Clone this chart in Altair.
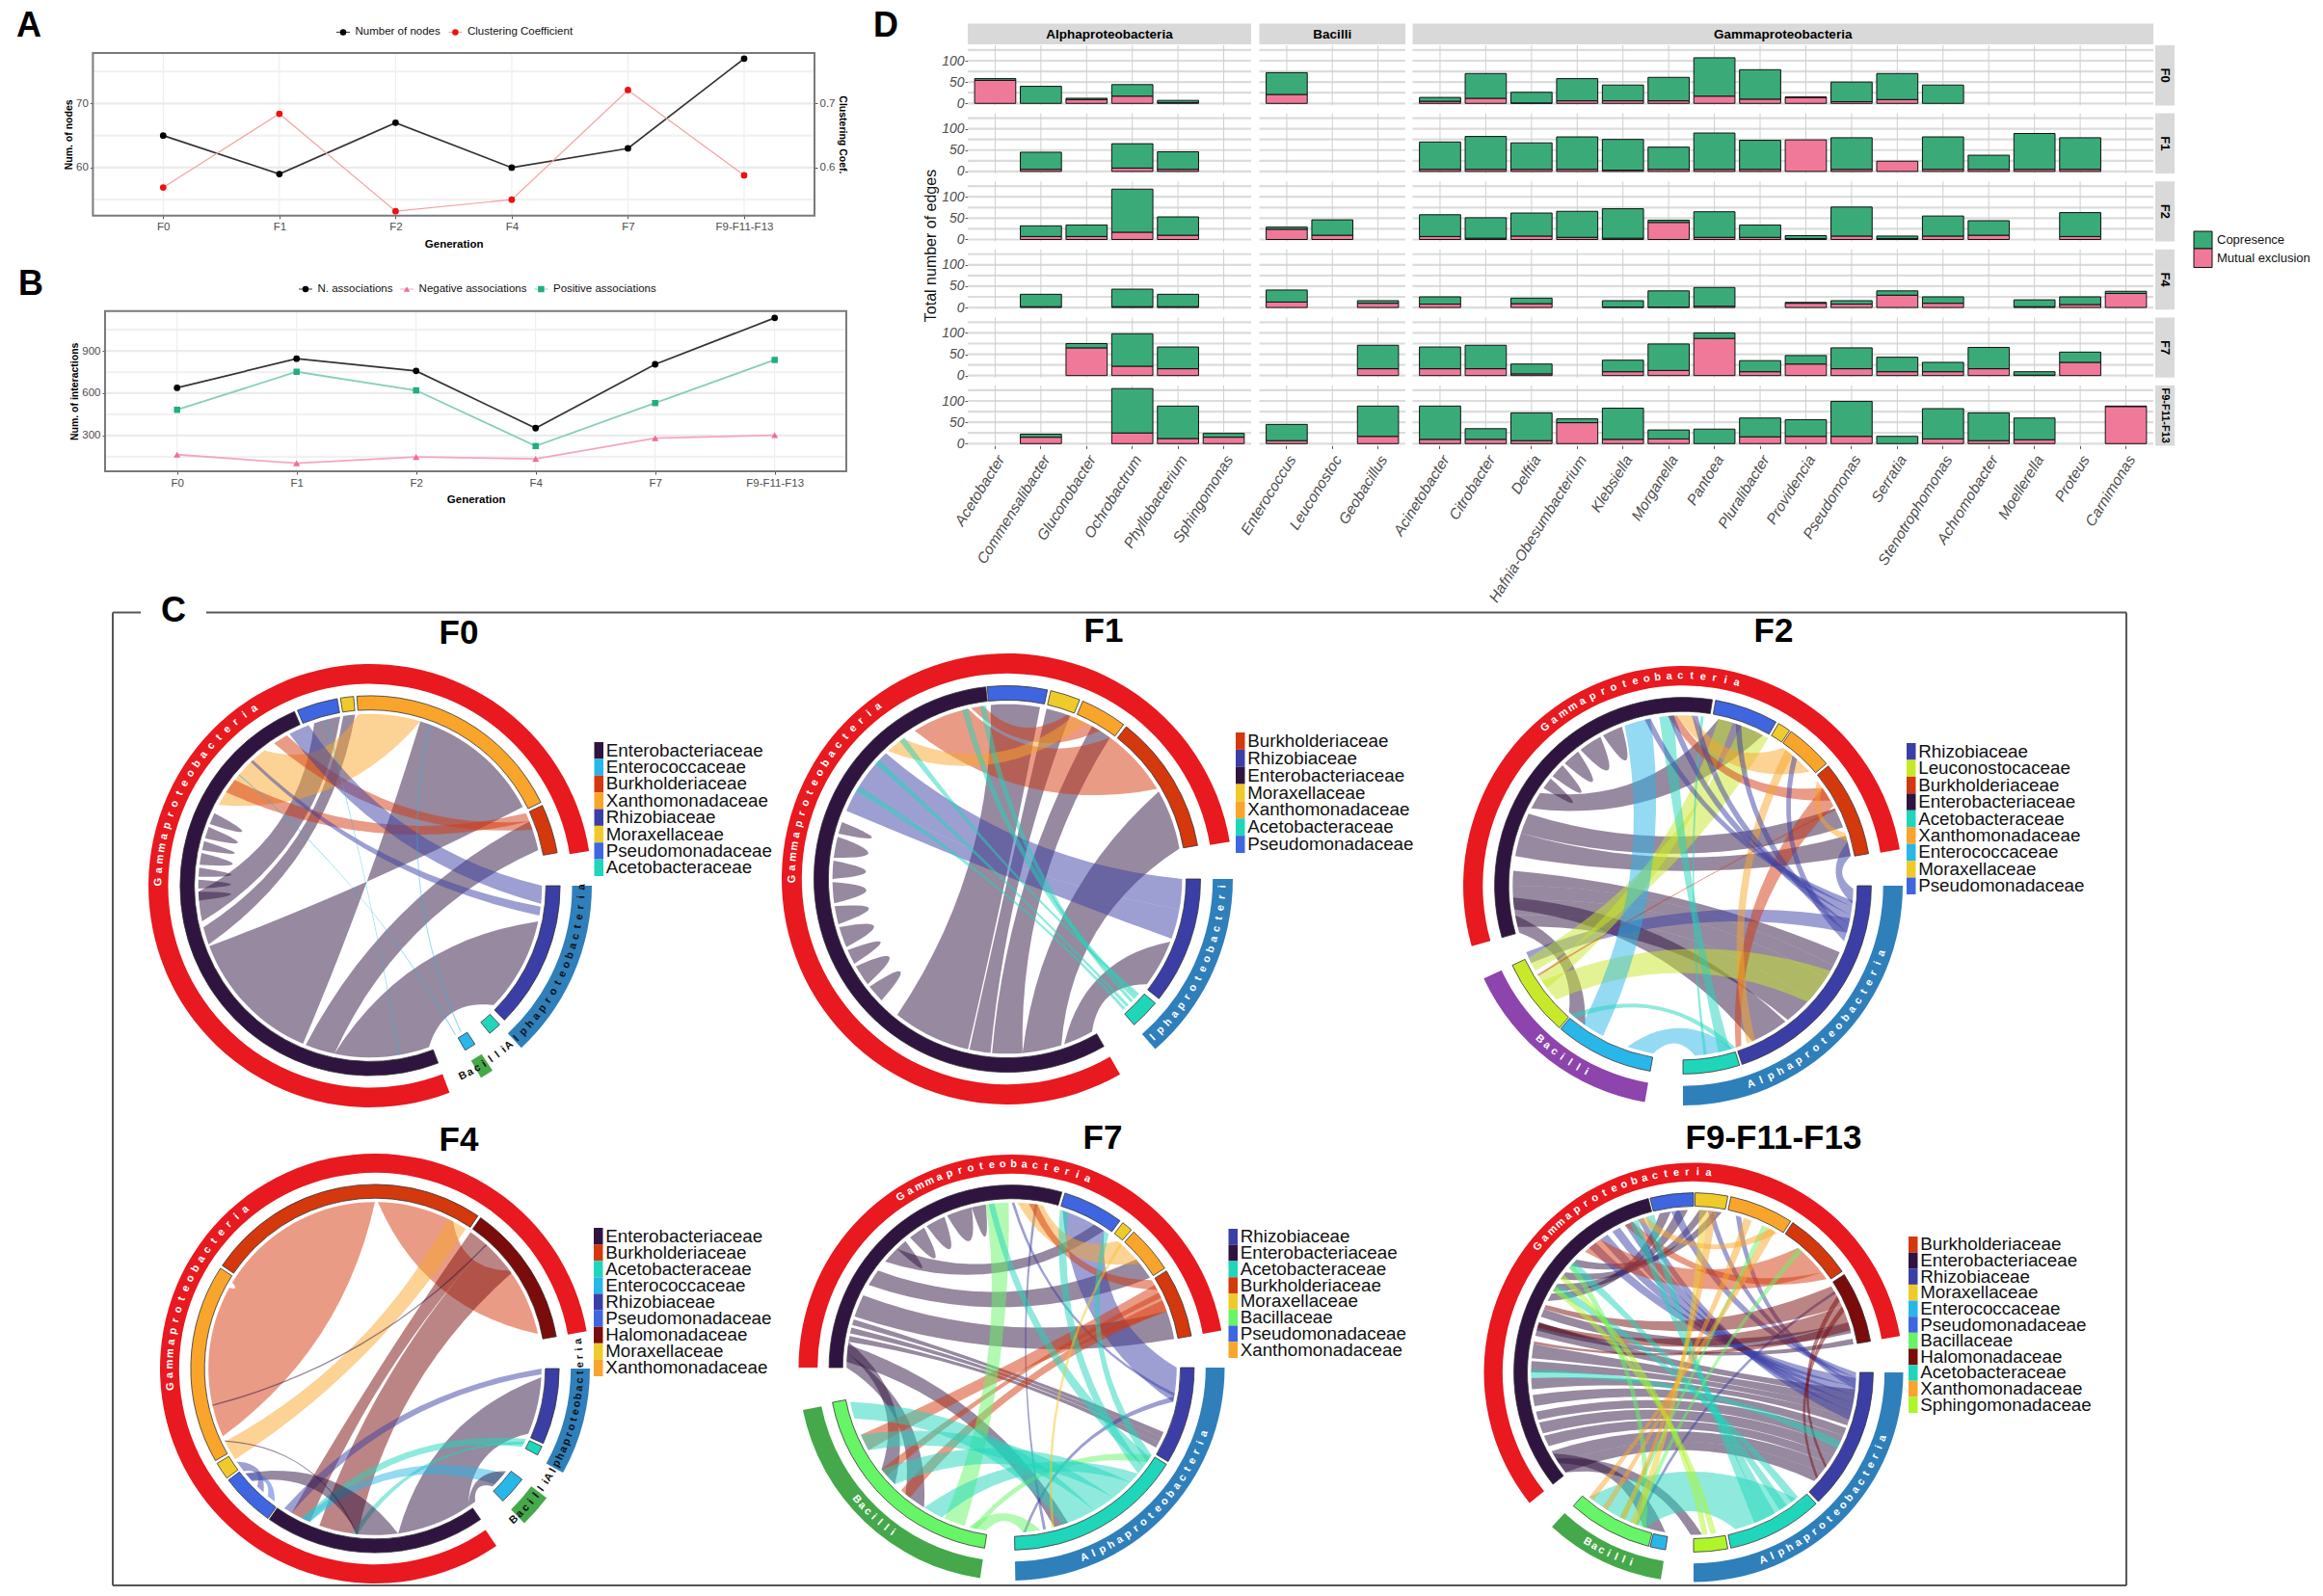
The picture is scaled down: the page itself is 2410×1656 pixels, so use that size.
import math
import altair as alt
import pandas as pd

W, H, M = 2394, 1640, 8
SANS = "Liberation Sans"

GENS = ["F0", "F1", "F2", "F4", "F7", "F9-F11-F13"]
nodes = [65, 59, 67, 60, 63, 77]
clustering = [0.569, 0.684, 0.532, 0.55, 0.721, 0.588]
n_assoc = [638, 845, 758, 352, 805, 1134]
pos_assoc = [482, 752, 620, 225, 530, 836]
neg_assoc = [164, 103, 148, 134, 281, 302]

ALPHA = ["Acetobacter", "Commensalibacter", "Gluconobacter", "Ochrobactrum", "Phyllobacterium", "Sphingomonas"]
BACILLI = ["Enterococcus", "Leuconostoc", "Geobacillus"]
GAMMA = ["Acinetobacter", "Citrobacter", "Delftia", "Hafnia-Obesumbacterium", "Klebsiella", "Morganella", "Pantoea",
         "Pluralibacter", "Providencia", "Pseudomonas", "Serratia", "Stenotrophomonas", "Achromobacter", "Moellerella",
         "Proteus", "Carnimonas"]
TOTAL = {
    "F0": [58, 40, 12, 44, 7, 0, 72, 0, 0, 14, 70, 26, 58, 43, 61, 107, 79, 15, 50, 70, 43, 0, 0, 0, 0],
    "F1": [0, 45, 0, 65, 46, 0, 0, 0, 0, 69, 82, 67, 81, 75, 57, 90, 73, 74, 79, 24, 81, 38, 89, 79, 0],
    "F2": [0, 32, 34, 118, 53, 0, 29, 46, 0, 58, 51, 62, 66, 72, 45, 65, 34, 9, 76, 8, 55, 44, 0, 63, 0],
    "F4": [0, 31, 0, 43, 31, 0, 41, 0, 16, 25, 0, 22, 0, 16, 39, 47, 0, 12, 16, 39, 25, 0, 18, 25, 38],
    "F7": [0, 0, 75, 98, 67, 0, 0, 0, 71, 67, 71, 27, 0, 36, 74, 100, 35, 47, 65, 43, 31, 66, 9, 55, 0],
    "F9-F11-F13": [0, 22, 0, 129, 88, 24, 45, 0, 88, 88, 35, 72, 58, 83, 32, 34, 60, 56, 99, 17, 82, 72, 60, 0, 88],
}
EXCL = {
    "F0": [54, 0, 9, 17, 2, 0, 21, 0, 0, 5, 12, 1, 6, 6, 6, 17, 10, 14, 4, 9, 0, 0, 0, 0, 0],
    "F1": [0, 5, 0, 8, 5, 0, 0, 0, 0, 5, 5, 5, 5, 3, 5, 5, 5, 74, 5, 24, 5, 5, 5, 5, 0],
    "F2": [0, 7, 7, 17, 10, 0, 24, 10, 0, 7, 3, 8, 5, 3, 40, 5, 5, 2, 8, 2, 8, 10, 0, 7, 0],
    "F4": [0, 2, 0, 2, 2, 0, 13, 0, 10, 8, 0, 9, 0, 1, 1, 3, 0, 10, 8, 29, 10, 0, 2, 7, 33],
    "F7": [0, 0, 65, 22, 16, 0, 0, 0, 16, 16, 16, 4, 0, 9, 12, 87, 9, 27, 16, 9, 9, 16, 1, 31, 0],
    "F9-F11-F13": [0, 15, 0, 25, 12, 15, 7, 0, 17, 10, 10, 7, 49, 10, 11, 0, 16, 17, 17, 0, 11, 7, 9, 0, 87],
}

FAM = {"E": ("Enterobacteriaceae", "#2f1440"), "C": ("Enterococcaceae", "#29b6e8"), "B": ("Burkholderiaceae", "#d4380d"),
       "X": ("Xanthomonadaceae", "#f9a52b"), "R": ("Rhizobiaceae", "#3b3fa5"), "M": ("Moraxellaceae", "#eecb2a"),
       "P": ("Pseudomonadaceae", "#3f66e0"), "A": ("Acetobacteraceae", "#1fd6bb"), "L": ("Leuconostocaceae", "#c8e82a"),
       "H": ("Halomonadaceae", "#7a0c0c"), "G": ("Bacillaceae", "#66f566"), "S": ("Sphingomonadaceae", "#aef52a")}
RED, BLUE, GREEN, PURPLE = "#e8191f", "#2f7fbb", "#45a84a", "#8e44ad"

DIAGS = [
 dict(name="F0", cx=384, cy=919, R=230, title=(476, 657), legend="ECBXRMPA", lg=(616.5, 770, 909),
      outer=[(90, 137, BLUE), (146.5, 150, GREEN), (159, 441, RED)],
      seg=[(90, 135, "R"), (137, 141, "A"), (146.5, 150, "C"), (159, 336.5, "E"), (337.5, 350, "P"), (351, 355, "M"), (356, 424, "X"), (425, 440, "B")],
      text=[("Gammaproteobacteria", 271, 3.1, "#ffffff"), ("Alphaproteobacteria", 139, -2.7, "#111111"), ("Bacilli", 154, -2.2, "#111111")],
      teeth=[(291, 295), (286, 290), (282, 285), (277, 281), (273, 276), (269, 272), (265, 268)],
      rib=[(17, 62.7, 249.4, 203, "E"), (68, 78, 192, 202, "E"), (102, 134, 160, 192, "E"), (341, 350, 258, 268, "E"), (351, 355, 250, 256, "E"),
           (298, 322, 356, 377, "X"), (303, 308, 65, 68, "B"), (326, 331, 68, 71, "B"), (332, 339, 90, 96, "R"), (316, 317, 97, 100, "R"),
           (345, 345.4, 170, 170.4, "C"), (310, 310.4, 150, 150.4, "C"), (20, 20.4, 148, 148.4, "C")]),
 dict(name="F1", cx=1045, cy=912, R=234, title=(1145, 655), legend="BREMXAP", lg=(1282, 760, 885),
      outer=[(90, 139, BLUE), (150, 440.5, RED)],
      seg=[(90, 128.3, "R"), (130, 139, "A"), (150, 353.6, "E"), (354, 372, "P"), (373, 382, "M"), (383, 397, "X"), (398, 440, "B")],
      text=[("Gammaproteobacteria", 270, 2.95, "#ffffff"), ("Alphaproteobacteria", 140.3, -2.84, "#ffffff")],
      teeth=[(285, 289), (277, 284), (270, 276), (262, 269), (255, 261), (247, 254), (241, 246), (233, 240), (226, 232)],
      rib=[(354.6, 370.8, 193, 219, "E"), (13, 21, 185.5, 192.5, "E"), (29, 36, 175, 185, "E"), (60, 80, 162, 175, "E"), (111, 127, 151, 161, "E"),
           (328, 347, 396, 419, "B"), (348, 352, 380, 392, "B"), (317, 323.4, 382, 387, "X"), (300, 316, 450, 460, "R"), (293, 300, 460, 470, "R"),
           (131, 132, 322, 324, "A"), (132, 133.5, 345, 347, "A"), (134, 135, 351, 353, "A"), (136, 137, 311, 313, "A"), (137.5, 138.5, 300, 302, "A")]),
 dict(name="F2", cx=1746, cy=919, R=228, title=(1840, 655), legend="RLBEAXCMP", lg=(1978, 771, 928),
      outer=[(90, 180, BLUE), (190, 245, PURPLE), (254, 440.5, RED)],
      seg=[(90, 161.7, "R"), (162.5, 180, "A"), (190, 220.5, "C"), (221, 245, "L"), (254, 369, "E"), (370, 389.6, "P"), (390.5, 394.5, "M"), (395, 409.6, "X"), (410.5, 440.2, "B")],
      text=[("Gammaproteobacteria", 319, 3.1, "#ffffff"), ("Alphaproteobacteria", 161, -2.9, "#ffffff"), ("Bacilli", 223, -2.6, "#ffffff")],
      teeth=[(305, 309), (310, 315), (316, 322), (323, 331), (332, 339)],
      rib=[(297, 303, 372, 388, "E"), (288, 295, 423, 430, "E"), (280, 288, 433, 440, "E"), (270, 275, 113, 118, "E"), (265, 270, 118, 123, "E"),
           (260, 265, 123, 132, "E"), (256, 260, 132, 142, "E"), (262, 266, 143, 156, "E"), (254, 260, 215, 222, "E"),
           (243, 247, 101, 106, "R"), (228, 236, 120, 133, "L"), (240, 245, 20, 30, "L"), (233, 238, 12, 17, "L"),
           (340, 349, 208, 216, "C"), (190, 199, 163, 176, "C"), (352, 357, 164, 168, "A"), (6, 7, 172, 173, "A"), (219, 221, 162, 164, "A"),
           (160, 162, 55, 62, "B"), (355, 358, 55, 60, "B"), (238, 238.6, 63, 63.6, "B"), (358, 363, 36, 48, "X"), (155, 158, 37, 40, "X"), (72, 75, 52, 55, "X"),
           (347, 349, 95, 97, "R"), (355, 357, 97, 100, "R"), (3, 5, 100, 103, "R"), (18, 20, 103, 106, "R"), (40, 42, 106, 109, "R"), (75, 80, 91, 96, "R")]),
 dict(name="F4", cx=389, cy=1420, R=223, title=(476, 1183), legend="EBACRPHMX", lg=(616, 1274, 1428),
      outer=[(90, 119, BLUE), (127, 136, GREEN), (145.6, 440, RED)],
      seg=[(90, 114, "R"), (115, 118, "A"), (127, 136, "C"), (145, 215, "E"), (215.5, 232.7, "P"), (233.5, 239, "M"), (240, 303, "X"), (304, 394, "B"), (395, 440, "H")],
      text=[("Gammaproteobacteria", 265, 3.1, "#ffffff"), ("Alphaproteobacteria", 122, -2.2, "#111111"), ("Bacilli", 137.4, -2.3, "#111111")],
      teeth=[],
      rib=[(246, 299, 301, 360, "B"), (1, 28, 54, 78, "B"), (237, 244, 26, 33, "X"), (35, 42, 203, 210, "H"), (42, 55, 186, 199.5, "H"),
           (93, 113, 146, 172, "E"), (90, 92, 210, 213, "R"), (115, 118, 203, 206, "A"), (116, 117, 186, 188, "A"), (129, 134, 203, 206, "C"),
           (128, 135, 143, 146, "E"), (227.5, 231, 172, 186, "E"), (244, 244.5, 186, 186.5, "E"), (222, 225, 232, 236, "R"), (217, 220, 228, 231, "P"), (257, 257.5, 41.7, 42.2, "E")]),
 dict(name="F7", cx=1049.5, cy=1419, R=221, title=(1144, 1181), legend="REABMGPX", lg=(1274.5, 1275, 1409),
      outer=[(90, 179, BLUE), (188.5, 258.5, GREEN), (270, 440, RED)],
      seg=[(90, 121, "R"), (122, 179, "A"), (188.5, 259, "G"), (270, 376, "E"), (377, 396.4, "P"), (397.5, 401, "M"), (402, 417, "X"), (418, 440, "B")],
      text=[("Gammaproteobacteria", 327, 3.05, "#ffffff"), ("Alphaproteobacteria", 159, -2.78, "#ffffff"), ("Bacilli", 229.6, -2.3, "#ffffff")],
      teeth=[(316, 320), (322, 328), (329, 336), (337, 346), (346, 351)],
      rib=[(310, 316, 390, 394, "E"), (300, 306, 409, 417, "E"), (288, 296, 430, 440, "E"), (285, 287, 113, 115, "E"), (282, 284, 115, 117, "E"), (279, 281, 117, 119, "E"),
           (272, 278, 160, 165, "E"), (270, 275, 212, 220, "E"), (275, 279, 225, 232, "E"), (18, 34, 90, 102, "R"), (360, 361, 99, 100, "R"), (8, 9, 168, 169, "R"),
           (175, 176, 100, 102, "R"), (400, 411, 2, 11, "X"), (60, 70, 240, 246, "B"), (66, 70, 218, 222, "B"), (63, 65, 229, 232, "B"), (58, 62, 6, 9, "B"),
           (351, 359, 196.5, 204, "G"), (170, 176, 189, 195, "G"), (192, 194, 122, 125, "G"), (252, 258, 150, 162, "A"), (240, 246, 142, 150, "A"), (225, 232, 134, 142, "A"), (205, 212, 130, 134, "A"),
           (352, 354, 123, 127, "A"), (17, 20, 127, 130, "A"), (34, 36, 122, 125, "A"), (41, 42, 165, 166, "M")]),
 dict(name="F9-F11-F13", cx=1757, cy=1424, R=217.5, title=(1840, 1181), legend="BERMCPGHAXS", lg=(1980, 1283, 1466),
      outer=[(90, 180, BLUE), (189, 222.5, GREEN), (231.5, 440, RED)],
      seg=[(90, 136, "R"), (137, 168, "A"), (169, 180, "S"), (189, 194, "C"), (194.5, 222, "G"), (231.5, 345.4, "E"), (346, 360, "P"), (360.5, 371, "M"), (372, 392.7, "X"), (393.5, 415.8, "B"), (417, 440, "H")],
      text=[("Gammaproteobacteria", 309, 3.07, "#ffffff"), ("Alphaproteobacteria", 159.6, -2.8, "#ffffff"), ("Bacilli", 212, -2.3, "#ffffff")],
      teeth=[],
      rib=[(283, 288, 96, 99, "E"), (275, 280, 99, 103, "E"), (270, 274, 103, 106, "E"), (264, 268, 106, 109, "E"), (258, 262, 110, 113, "E"), (253, 256, 113, 117, "E"),
           (248, 252, 117, 121, "E"), (243, 247, 121, 124, "E"), (236, 241, 124, 128, "E"), (232, 236, 128, 132, "E"), (296, 299, 348, 352, "E"), (300, 303, 354, 358, "E"),
           (305, 308, 2, 5, "E"), (311, 314, 7, 10, "E"), (290, 293, 72, 76, "E"), (285, 288, 78, 80, "E"), (236, 240, 190, 198, "E"), (232, 238, 177, 181, "E"),
           (320, 323, 92, 95, "R"), (325, 328, 95, 98, "R"), (330, 333, 98, 101, "R"), (335, 338, 101, 104, "R"), (340, 342, 104, 107, "R"), (352, 355, 90, 92, "R"),
           (5, 7, 92, 94, "R"), (15, 17, 94, 96, "R"), (200, 201, 60, 61, "R"), (318, 325, 40, 52, "B"), (335, 338, 52, 55, "B"), (293, 294.5, 58, 66, "H"), (286, 287.5, 66, 72, "H"),
           (125, 126, 62, 64, "H"), (130, 131, 66, 68, "H"), (280, 281, 72, 75, "H"), (337, 340, 150, 154, "A"), (343, 346, 154, 158, "A"), (310, 313, 145, 148, "A"), (300, 303, 140, 143, "A"),
           (197, 220, 141, 165, "A"), (115, 118, 268, 271, "A"), (300, 302, 172, 174, "S"), (305, 307, 175, 177, "S"), (310, 312, 197, 199, "G"), (25, 27, 205, 207, "G"), (40, 42, 200, 202, "G"),
           (5, 8, 205, 207, "X"), (18, 21, 212, 214, "X"), (27, 30, 218, 220, "X"), (340, 343, 28, 31, "X"), (2, 5, 200, 203, "M")]),
]

layers = []
ONE = pd.DataFrame({"k": [0]})


def P(v):
    return v - M


def box(x0, x1, y0, y1, fill=None, stroke=None, sw=1.0):
    kw = dict(fill=fill) if fill else dict(fillOpacity=0)
    if stroke:
        kw.update(stroke=stroke, strokeWidth=sw)
    layers.append(alt.Chart(ONE).mark_rect(**kw).encode(
        x=alt.value(P(x0)), x2=alt.value(P(x1)), y=alt.value(P(y0)), y2=alt.value(P(y1))))


def hline(x0, x1, y, color="#555555", sw=2):
    layers.append(alt.Chart(ONE).mark_rule(color=color, strokeWidth=sw).encode(
        x=alt.value(P(x0)), x2=alt.value(P(x1)), y=alt.value(P(y))))


def vline(x, y0, y1, color="#555555", sw=2):
    layers.append(alt.Chart(ONE).mark_rule(color=color, strokeWidth=sw).encode(
        x=alt.value(P(x)), y=alt.value(P(y0)), y2=alt.value(P(y1))))


def note(label, x, y, size=12, font=SANS, weight="normal", color="#000000", align="center", angle=0, style="normal"):
    layers.append(alt.Chart(pd.DataFrame({"label": [label]})).mark_text(
        fontSize=size, font=font, fontWeight=weight, color=color, align=align, baseline="middle", angle=angle, fontStyle=style
    ).encode(x=alt.value(P(x)), y=alt.value(P(y)), text=alt.Text("label:N")))


# ------------------------------------------------------ panels A and B
def line_panel(x0, x1, y0, y1, fx0, fx1, dom, majors, minors, series, left, right=None):
    xs = alt.Scale(type="point", domain=GENS, range=[P(fx0), P(fx1)], padding=0)
    ys = alt.Scale(domain=dom, range=[P(y1), P(y0)], nice=False, zero=False)
    gx = pd.DataFrame({"g": GENS})
    layers.append(alt.Chart(gx).mark_rule(color="#ececec", strokeWidth=1).encode(
        x=alt.X("g:N", scale=xs, axis=None), y=alt.value(P(y0)), y2=alt.value(P(y1))))
    layers.append(alt.Chart(pd.DataFrame({"v": minors})).mark_rule(color="#f1f1f1", strokeWidth=2.2).encode(
        y=alt.Y("v:Q", scale=ys, axis=None), x=alt.value(P(x0)), x2=alt.value(P(x1))))
    layers.append(alt.Chart(pd.DataFrame({"v": majors})).mark_rule(color="#ebebeb", strokeWidth=2.2).encode(
        y=alt.Y("v:Q", scale=ys, axis=None), x=alt.value(P(x0)), x2=alt.value(P(x1))))
    first = True
    for vals, lcol, lw, mcol, shape, size, sc in series:
        d = pd.DataFrame({"g": GENS, "v": vals})
        scale = sc or ys
        xa = None
        ya = None
        if first:
            xa = alt.Axis(title="Generation", orient="bottom", titleFont=SANS, titleFontSize=11.5, titleFontWeight="bold", titleColor="#000000",
                          labelFont=SANS, labelFontSize=11.5, labelColor="#4d4d4d", labelAngle=0, domain=False, tickSize=3,
                          tickColor="#555555", grid=False, offset=P(y1) - H, labelPadding=3, titlePadding=6)
            ya = alt.Axis(title=left[0], orient="left", titleFont=SANS, titleFontSize=10.5, titleFontWeight="bold", titleColor="#000000",
                          labelFont=SANS, labelFontSize=11.5, labelColor="#4d4d4d", domain=False, tickSize=3, tickColor="#555555",
                          grid=False, values=left[1], offset=-P(x0), labelPadding=2, titlePadding=2)
        if sc is not None:
            ya = alt.Axis(title=right[0], orient="right", titleFont=SANS, titleFontSize=10.5, titleFontWeight="bold", titleColor="#000000",
                          labelFont=SANS, labelFontSize=11.5, labelColor="#4d4d4d", domain=False, tickSize=3, tickColor="#555555",
                          grid=False, values=right[1], offset=P(x1) - W, format=".1f", labelPadding=2, titlePadding=3)
        layers.append(alt.Chart(d).mark_line(color=lcol, strokeWidth=lw).encode(
            x=alt.X("g:N", sort=None, scale=xs, axis=xa), y=alt.Y("v:Q", scale=scale, axis=ya)))
        layers.append(alt.Chart(d).mark_point(filled=True, color=mcol, shape=shape, size=size, opacity=1).encode(
            x=alt.X("g:N", sort=None, scale=xs, axis=None), y=alt.Y("v:Q", scale=scale, axis=None)))
        first = False
    box(x0, x1, y0, y1, stroke="#7a7a7a", sw=2)


def key(items, y):
    for label, sx, tx, col, shape, lcol in items:
        hline(sx - 7, sx + 7, y, color=lcol, sw=1)
        layers.append(alt.Chart(pd.DataFrame({"k": [label]})).mark_point(filled=True, color=col, shape=shape, size=42, opacity=1).encode(
            x=alt.value(P(sx)), y=alt.value(P(y))))
        note(label, tx, y, size=11.5, align="left", color="#111111")


cc_scale = alt.Scale(domain=[0.525, 0.7788], range=[P(223.8), P(55)], nice=False, zero=False)
line_panel(96.4, 845, 55, 223.8, 169.3, 772, [52.5, 77.88], [60, 70], [55, 65, 75],
           [(nodes, "#333333", 1.7, "#000000", "circle", 46, None),
            (clustering, "#f4a0a0", 1.2, "#ee1111", "circle", 46, cc_scale)],
           ("Num. of nodes", [60, 70]), ("Clustering Coef.", [0.6, 0.7]))
line_panel(109, 878, 322.7, 489, 183.7, 803.7, [46, 1183], [300, 600, 900], [150, 450, 750, 1050],
           [(n_assoc, "#333333", 1.7, "#000000", "circle", 46, None),
            (neg_assoc, "#f4a6bb", 1.8, "#ee6f92", "triangle-up", 50, None),
            (pos_assoc, "#86d0b2", 1.8, "#1fae7f", "square", 42, None)],
           ("Num. of interactions", [300, 600, 900]))
key([("Number of nodes", 356, 368.5, "#000000", "circle", "#333333"),
     ("Clustering Coefficient", 472.4, 485, "#ee1111", "circle", "#f4a0a0")], 33.4)
key([("N. associations", 317, 329.5, "#000000", "circle", "#333333"),
     ("Negative associations", 422, 434.6, "#ee6f92", "triangle-up", "#f4a6bb"),
     ("Positive associations", 561.4, 574, "#1fae7f", "square", "#86d0b2")], 300)
note("A", 30, 27, size=36, weight="bold")
note("B", 32, 295, size=36, weight="bold")
note("D", 919, 27, size=36, weight="bold")

# ------------------------------------------------------ panel D
TAXA = ALPHA + BACILLI + GAMMA
GROUPS = [("Alphaproteobacteria", ALPHA, 1004, 1298), ("Bacilli", BACILLI, 1306.5, 1458), ("Gammaproteobacteria", GAMMA, 1465.5, 2234)]
ROW_TOP, ROW_STEP, ROW_H = 47, 70.6, 62.4
for label, taxa, x0, x1 in GROUPS:
    box(x0, x1, 24.5, 46, fill="#d9d9d9")
    note(label, (x0 + x1) / 2, 35.5, size=13.5, weight="bold")

for r, gen in enumerate(GENS):
    top = ROW_TOP + r * ROW_STEP
    bot = top + ROW_H
    ys = alt.Scale(domain=[-4.8, 136.2], range=[P(bot), P(top)], nice=False, zero=False)
    box(2236, 2256, top, bot, fill="#d9d9d9")
    note(gen, 2246, (top + bot) / 2, size=13 if len(gen) < 3 else 11, weight="bold", angle=90)
    for c, (label, taxa, x0, x1) in enumerate(GROUPS):
        xs = alt.Scale(type="band", domain=taxa, range=[P(x0), P(x1)], paddingInner=0.1, paddingOuter=0.15)
        layers.append(alt.Chart(pd.DataFrame({"v": [0, 25, 50, 75, 100, 125]})).mark_rule(color="#dcdcdc", strokeWidth=2.2).encode(
            y=alt.Y("v:Q", scale=ys, axis=None), x=alt.value(P(x0)), x2=alt.value(P(x1))))
        layers.append(alt.Chart(pd.DataFrame({"t": taxa})).mark_rule(color="#cfcfcf", strokeWidth=1).encode(
            x=alt.X("t:N", scale=xs, axis=None), y=alt.value(P(top)), y2=alt.value(P(bot))))
        rows = []
        for t in taxa:
            i = TAXA.index(t)
            tot, me = TOTAL[gen][i], EXCL[gen][i]
            if me > 0:
                rows.append(dict(t=t, kind="Mutual exclusion", a=0, b=me))
            if tot > me:
                rows.append(dict(t=t, kind="Copresence", a=me, b=tot))
        if not rows:
            continue
        xa = None
        ya = None
        if r == len(GENS) - 1:
            xa = alt.Axis(title=None, orient="bottom", labelAngle=-58, labelAlign="right", labelBaseline="middle", labelFont=SANS, labelFontSize=15.5,
                          labelColor="#4d4d4d", labelFontStyle="italic", domain=False, tickSize=3, tickColor="#555555", grid=False,
                          offset=P(bot) - H, labelPadding=8, labelOverlap=False, labelFlush=False, labelOffset=6, labelLimit=300,
                          values=taxa)
        if c == 0:
            ya = alt.Axis(title=None, orient="left", values=[0, 50, 100], labelFont=SANS, labelFontSize=14, labelColor="#4d4d4d", labelFontStyle="italic",
                          domain=False, tickSize=3, tickColor="#555555", grid=False, offset=-P(x0), labelPadding=1)
        layers.append(alt.Chart(pd.DataFrame(rows)).mark_bar(stroke="#111111", strokeWidth=1).encode(
            x=alt.X("t:N", sort=None, scale=xs, axis=xa),
            y=alt.Y("a:Q", scale=ys, axis=ya), y2=alt.Y2("b:Q"),
            color=alt.Color("kind:N", legend=None, scale=alt.Scale(domain=["Copresence", "Mutual exclusion"], range=["#3aab78", "#f0799a"]))))

note("Total number of edges", 965.5, 255, size=16, angle=270, color="#111111")
box(2276, 2295, 240, 258, fill="#3aab78", stroke="#111111")
box(2276, 2295, 258, 277.5, fill="#f0799a", stroke="#111111")
note("Copresence", 2300, 249, size=13, align="left", color="#111111")
note("Mutual exclusion", 2300, 268, size=13, align="left", color="#111111")

# ------------------------------------------------------ panel C
hline(117, 146, 635.5)
hline(214, 2206, 635.5)
hline(117, 2206, 1645)
vline(117, 635.5, 1645)
vline(2206, 635.5, 1645)
note("C", 180, 634, size=36, weight="bold")


def pt(deg, r):
    t = math.radians(deg)
    return r * math.sin(t), r * math.cos(t)


def arc_pts(a, b, r):
    n = max(2, int(abs(b - a) / 3) + 2)
    return [pt(a + (b - a) * i / (n - 1), r) for i in range(n)]


def bez(a, b, r, c=None):
    sep = abs((a - b + 180) % 360 - 180)
    mid = a + ((b - a + 180) % 360 - 180) / 2
    cr = r * (c if c is not None else 0.95 * max(0.0, 1 - sep / 150))
    p0, p1, p2 = pt(a, r), pt(mid, cr), pt(b, r)
    out = []
    for i in range(1, 14):
        u = i / 14
        out.append(((1 - u) ** 2 * p0[0] + 2 * u * (1 - u) * p1[0] + u * u * p2[0],
                    (1 - u) ** 2 * p0[1] + 2 * u * (1 - u) * p1[1] + u * u * p2[1]))
    return out


for dg in DIAGS:
    cx, cy, R = dg["cx"], dg["cy"], dg["R"]
    xs = alt.Scale(domain=[-1, 1], range=[P(cx - R), P(cx + R)], nice=False, zero=False)
    ys = alt.Scale(domain=[-1, 1], range=[P(cy + R), P(cy - R)], nice=False, zero=False)
    rr = 0.775
    rows = []
    gid = 0
    for a1, a2 in dg["teeth"]:
        for i, (x, y) in enumerate(arc_pts(a1, a2, rr) + bez(a2, a1, rr, 0.62)):
            rows.append(dict(id=gid, i=i, x=x, y=y, col=FAM["E"][1]))
        gid += 1
    for a1, a2, b1, b2, key_ in dg["rib"]:
        p = arc_pts(a1, a2, rr) + bez(a2, b1, rr) + arc_pts(b1, b2, rr) + bez(b2, a1, rr)
        for i, (x, y) in enumerate(p):
            rows.append(dict(id=gid, i=i, x=round(x, 4), y=round(y, 4), col=FAM[key_][1]))
        gid += 1
    layers.append(alt.Chart(pd.DataFrame(rows)).mark_line(opacity=0.5, strokeWidth=0).encode(
        x=alt.X("x:Q", scale=xs, axis=None), y=alt.Y("y:Q", scale=ys, axis=None),
        detail="id:N", order=alt.Order("i:Q"), fill=alt.Fill("col:N", scale=None)))

    outer = pd.DataFrame([dict(t0=math.radians(a), t1=math.radians(b), col=c) for a, b, c in dg["outer"]])
    layers.append(alt.Chart(outer).mark_arc(radius=R, radius2=0.911 * R).encode(
        theta=alt.Theta("t0:Q", scale=None, stack=None), theta2=alt.Theta2("t1:Q"),
        x=alt.value(P(cx)), y=alt.value(P(cy)), fill=alt.Fill("col:N", scale=None)))
    seg = pd.DataFrame([dict(t0=math.radians(a), t1=math.radians(b), col=FAM[k][1]) for a, b, k in dg["seg"]])
    layers.append(alt.Chart(seg).mark_arc(radius=0.857 * R, radius2=0.793 * R, stroke="#333333", strokeWidth=0.8).encode(
        theta=alt.Theta("t0:Q", scale=None, stack=None), theta2=alt.Theta2("t1:Q"),
        x=alt.value(P(cx)), y=alt.value(P(cy)), fill=alt.Fill("col:N", scale=None)))

    letters = []
    for word, start, step, col in dg["text"]:
        for i, ch in enumerate(word):
            deg = start + i * step
            x, y = pt(deg, 0.955)
            letters.append(dict(ch=ch, x=x, y=y, ang=(deg if step > 0 else deg + 180) % 360, col=col))
    layers.append(alt.Chart(pd.DataFrame(letters)).mark_text(font=SANS, fontWeight="bold", fontSize=11, align="center", baseline="middle").encode(
        x=alt.X("x:Q", scale=xs, axis=None), y=alt.Y("y:Q", scale=ys, axis=None), text=alt.Text("ch:N"),
        angle=alt.Angle("ang:Q", scale=None), color=alt.Color("col:N", scale=None)))

    lx, ltop, lbot = dg["lg"]
    fams = [FAM[k][0] for k in dg["legend"]]
    ld = pd.DataFrame({"fam": fams, "col": [FAM[k][1] for k in dg["legend"]]})
    ly = alt.Scale(type="band", domain=fams, range=[P(ltop), P(lbot)], paddingInner=0, paddingOuter=0)
    layers.append(alt.Chart(ld).mark_rect().encode(
        y=alt.Y("fam:N", sort=None, scale=ly, axis=None), x=alt.value(P(lx)), x2=alt.value(P(lx + 9.5)),
        fill=alt.Fill("col:N", scale=None)))
    layers.append(alt.Chart(ld).mark_text(font=SANS, fontSize=18.8, align="left", baseline="middle", color="#111111").encode(
        y=alt.Y("fam:N", sort=None, scale=ly, axis=None), x=alt.value(P(lx + 12.2)), text=alt.Text("fam:N")))
    note(dg["name"], dg["title"][0], dg["title"][1], size=35, weight="bold")

chart = alt.layer(*layers).resolve_scale(
    x="independent", y="independent", color="independent", fill="independent"
).properties(
    width=W, height=H, padding=0, autosize=alt.AutoSizeParams(type="none"), background="#ffffff"
).configure_view(stroke=None)

chart.save("out.html", embed_options={"renderer": "svg", "actions": False})
